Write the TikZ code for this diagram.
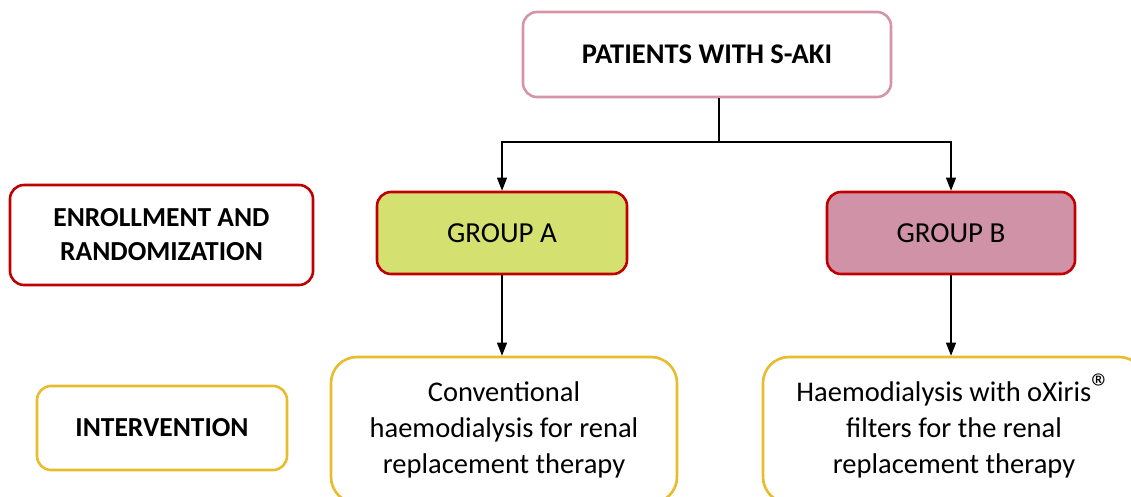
\documentclass[tikz,border=0pt]{standalone}
\usepackage{fontspec}
\setmainfont{Carlito}
\usetikzlibrary{arrows.meta}
\definecolor{pinkline}{HTML}{D495A8}
\definecolor{redline}{HTML}{C00000}
\definecolor{goldline}{HTML}{E8BC2C}
\definecolor{greenfill}{HTML}{D4E06F}
\definecolor{pinkfill}{HTML}{D092A6}
\tikzset{
  box/.style={draw, line width=2.6pt, rounded corners=14pt, align=center, inner sep=0pt, fill=white},
  headbox/.style={box, draw=pinkline, font=\fontsize{28.5}{34}\selectfont\bfseries},
  labelbox/.style={box, font=\fontsize{27.5}{34}\selectfont\bfseries},
  groupbox/.style={box, draw=redline, font=\fontsize{29}{34}\selectfont},
  treatbox/.style={box, draw=goldline, rounded corners=26pt, font=\fontsize{28.5}{36}\selectfont},
  link/.style={line width=1.1pt},
  arrowlink/.style={link, -{Triangle[length=13pt,width=10pt]}},
}
\newcommand{\regmark}{\smash{\fontsize{40}{40}\selectfont\textregistered}}
\begin{document}
\begin{tikzpicture}[x=1pt,y=-1pt]
\useasboundingbox (0,0) rectangle (1131,497);
\clip (0,0) rectangle (1131,497);

\node[headbox, minimum width=368pt, minimum height=85pt] (top) at (707,54.5) {PATIENTS WITH S-AKI};

\node[labelbox, draw=redline, minimum width=303pt, minimum height=100pt] (enroll) at (161.5,235) {ENROLLMENT AND\\RANDOMIZATION};
\node[labelbox, draw=goldline, minimum width=250pt, minimum height=84pt] (interv) at (162,428) {INTERVENTION};

\node[groupbox, fill=greenfill, minimum width=250pt, minimum height=82pt] (ga) at (502,233) {GROUP A};
\node[groupbox, fill=pinkfill, minimum width=248pt, minimum height=82pt] (gb) at (951,233) {GROUP B};

\node[treatbox, minimum width=346pt, minimum height=146pt] (ta) at (504,430)
  {Conventional\\haemodialysis for renal\\replacement therapy};
\node[treatbox, minimum width=382pt, minimum height=146pt] (tb) at (954,430)
  {Haemodialysis with oXiris\regmark\\filters for the renal\\replacement therapy};

\coordinate (split) at (719,142);
\draw[link] (top.south -| split) -- (split);
\draw[arrowlink] (split) -| (ga.north);
\draw[arrowlink] (split) -| (gb.north);
\draw[arrowlink] (ga.south) -- (ga.south |- ta.north);
\draw[arrowlink] (gb.south) -- (gb.south |- tb.north);
\end{tikzpicture}
\end{document}
